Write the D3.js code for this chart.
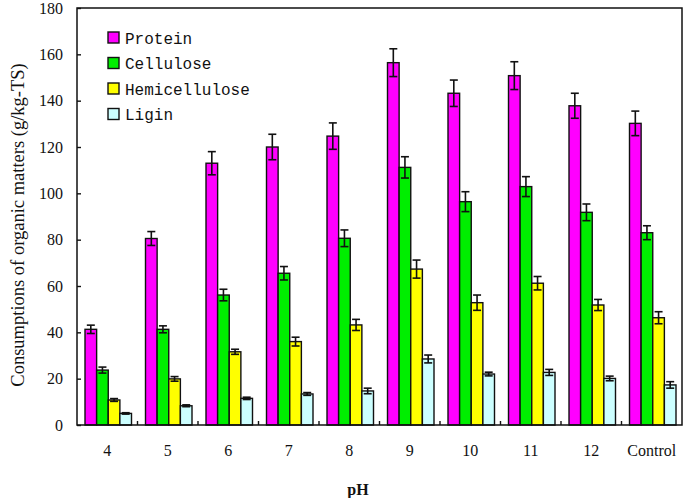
<!DOCTYPE html>
<html>
<head>
<meta charset="utf-8">
<script src="https://cdn.jsdelivr.net/npm/d3@7"></script>
<style>
  body { margin: 0; background: #fff; }
  svg { display: block; }
</style>
</head>
<body>
<div id="chart"></div>
<script>
const categories = ["4", "5", "6", "7", "8", "9", "10", "11", "12", "Control"];
const seriesNames = ["Protein", "Cellulose", "Hemicellulose", "Ligin"];
const protein = [41.3, 80.5, 113, 120, 124.7, 156.4, 143.2, 150.8, 137.8, 130.2];
const cellulose = [23.7, 41.3, 56.1, 65.5, 80.6, 111.2, 96.4, 102.9, 91.8, 83];
const hemicellulose = [10.8, 19.9, 31.6, 36, 43.2, 67.3, 52.8, 61.2, 51.8, 46.3];
const ligin = [5, 8.3, 11.5, 13.4, 14.7, 28.5, 22, 22.7, 20.1, 17.3];
const proteinErr = [1.8, 3, 5, 5.5, 5.7, 6, 5.7, 6, 5.4, 5.3];
const celluloseErr = [1.3, 1.5, 2.5, 2.9, 3.6, 4.6, 4.3, 4.3, 3.6, 3];
const hemicelluloseErr = [0.6, 1, 1.1, 1.9, 2.4, 3.9, 3.3, 2.9, 2.4, 2.6];
const liginErr = [0.3, 0.4, 0.5, 0.6, 1.2, 1.7, 0.8, 1.3, 1, 1.4];
const yTicks = [0, 20, 40, 60, 80, 100, 120, 140, 160, 180];
const colors = ["#ff00ff", "#00ee00", "#ffff00", "#ccffff"];

const values = [protein, cellulose, hemicellulose, ligin];
const errors = [proteinErr, celluloseErr, hemicelluloseErr, liginErr];

const width = 685, height = 498;
const margin = { top: 8, right: 3, bottom: 73, left: 77 };
const serif = "'Liberation Serif', 'Times New Roman', serif";

const svg = d3.select("#chart").append("svg")
  .attr("width", width)
  .attr("height", height);

const x = d3.scaleBand()
  .domain(categories)
  .range([margin.left, width - margin.right]);

const x1 = d3.scaleBand()
  .domain(seriesNames)
  .range([8, x.bandwidth() - 6]);

const y = d3.scaleLinear()
  .domain([0, 180])
  .range([height - margin.bottom, margin.top]);

// bars + error bars
const groups = svg.append("g").selectAll("g")
  .data(categories)
  .join("g")
  .attr("transform", d => `translate(${x(d)},0)`);

groups.each(function(cat, i) {
  const g = d3.select(this);
  seriesNames.forEach((s, j) => {
    const v = values[j][i], e = errors[j][i];
    const bx = x1(s), bw = x1.bandwidth();
    g.append("rect")
      .attr("x", bx)
      .attr("y", y(v))
      .attr("width", bw)
      .attr("height", y(0) - y(v))
      .attr("fill", colors[j])
      .attr("stroke", "#111")
      .attr("stroke-width", 1.4);
    const cx = bx + bw / 2;
    const eb = g.append("g").attr("stroke", "#111").attr("stroke-width", 1.6);
    eb.append("line").attr("x1", cx).attr("x2", cx).attr("y1", y(v + e)).attr("y2", y(v - e));
    eb.append("line").attr("x1", cx - 4).attr("x2", cx + 4).attr("y1", y(v + e)).attr("y2", y(v + e));
    eb.append("line").attr("x1", cx - 4).attr("x2", cx + 4).attr("y1", y(v - e)).attr("y2", y(v - e));
  });
});

// frame
svg.append("rect")
  .attr("x", margin.left)
  .attr("y", margin.top)
  .attr("width", width - margin.left - margin.right)
  .attr("height", height - margin.top - margin.bottom)
  .attr("fill", "none")
  .attr("stroke", "#111")
  .attr("stroke-width", 1.5);

// y axis
const yAxis = svg.append("g")
  .attr("transform", `translate(${margin.left},0)`)
  .call(d3.axisLeft(y).tickValues(yTicks).tickSizeInner(-4).tickSizeOuter(0).tickPadding(14));
yAxis.select(".domain").remove();
yAxis.selectAll("line").attr("stroke", "#111").attr("stroke-width", 1.4);
yAxis.selectAll("text")
  .attr("font-family", serif)
  .attr("font-size", 16)
  .attr("fill", "#111");

// x axis: labels at group centres, small ticks at group boundaries
const xAxis = svg.append("g")
  .attr("transform", `translate(0,${y(0)})`)
  .call(d3.axisBottom(x).tickSize(0).tickPadding(20));
xAxis.select(".domain").remove();
xAxis.selectAll("text")
  .attr("font-family", serif)
  .attr("font-size", 16)
  .attr("fill", "#111");

svg.append("g").selectAll("line")
  .data(categories.slice(1))
  .join("line")
  .attr("x1", d => x(d))
  .attr("x2", d => x(d))
  .attr("y1", y(0))
  .attr("y2", y(0) - 4)
  .attr("stroke", "#111")
  .attr("stroke-width", 1.4);

// axis titles
svg.append("text")
  .attr("x", 358)
  .attr("y", 495)
  .attr("text-anchor", "middle")
  .attr("font-family", serif)
  .attr("font-size", 16)
  .attr("font-weight", "bold")
  .attr("fill", "#111")
  .text("pH");

svg.append("text")
  .attr("transform", "translate(24,225) rotate(-90)")
  .attr("text-anchor", "middle")
  .attr("font-family", serif)
  .attr("font-size", 18.5)
  .attr("fill", "#111")
  .text("Consumptions of organic matters (g/kg-TS)");

// legend
const legend = svg.append("g").attr("transform", "translate(108,32)");
seriesNames.forEach((s, j) => {
  const row = legend.append("g").attr("transform", `translate(0,${j * 25.5})`);
  row.append("rect")
    .attr("width", 11)
    .attr("height", 11)
    .attr("fill", colors[j])
    .attr("stroke", "#111")
    .attr("stroke-width", 1.4);
  row.append("text")
    .attr("x", 17)
    .attr("y", 11.5)
    .attr("font-family", "'Liberation Mono', monospace")
    .attr("font-size", 16)
    .attr("fill", "#111")
    .text(s);
});
</script>
</body>
</html>
